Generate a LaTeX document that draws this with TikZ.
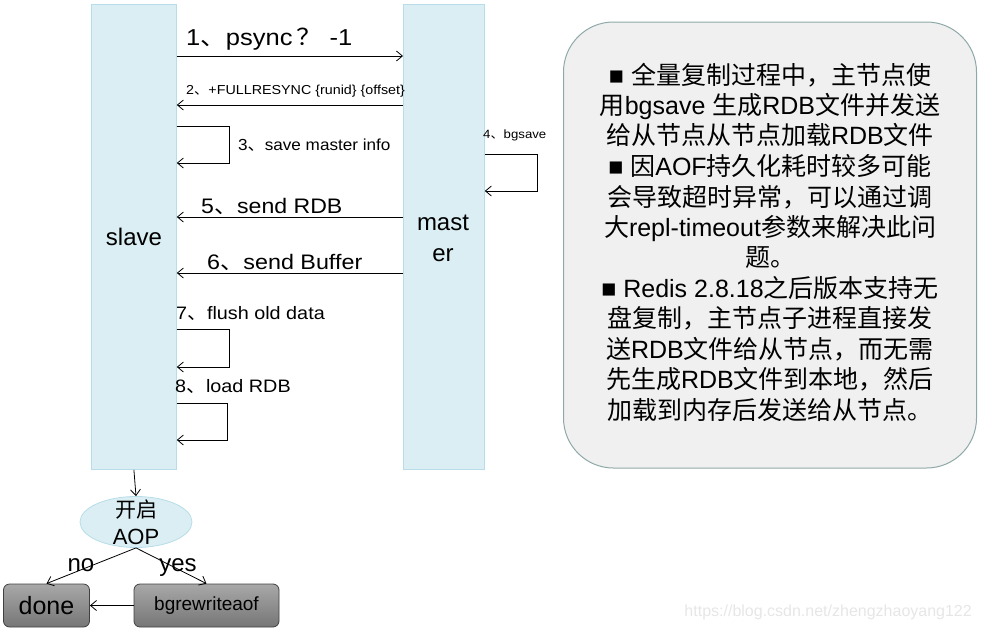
\documentclass[tikz,border=0pt]{standalone}
\usepackage{fontspec}
\setmainfont{Liberation Sans}
\newfontfamily\cjk{Noto Sans CJK SC}
\usetikzlibrary{arrows.meta,shapes.geometric}
\definecolor{life}{HTML}{DAEEF3}
\definecolor{lifeb}{HTML}{B7DDE8}
\definecolor{notef}{HTML}{F0F0F0}
\definecolor{noteb}{HTML}{8FA9A8}
\definecolor{gtop}{HTML}{A8A8A8}
\definecolor{gbot}{HTML}{767676}
\definecolor{gbord}{HTML}{404040}
\definecolor{wm}{HTML}{E6E6E6}
\newcommand\zh[1]{{\cjk #1}}
\newcommand\fsz[1]{\fontsize{#1}{#1}\selectfont}
\newcommand\wide[2]{\scalebox{#1}[1]{#2}}
\begin{document}
\begin{tikzpicture}[x=1pt,y=-1pt,
  arr/.style={-{Straight Barb[length=6pt,width=10pt]}, line width=0.8pt},
  lifeline/.style={draw=lifeb, fill=life, line width=0.8pt, inner sep=0pt, anchor=north west, minimum height=465pt},
  lbl/.style={anchor=base west, inner sep=0pt},
  graybox/.style={draw=gbord, top color=gtop, bottom color=gbot, rounded corners=6pt, line width=0.8pt, inner sep=0pt, minimum height=43pt},
  noteline/.style={anchor=base, inner sep=0pt, font=\fsz{25}}]
\useasboundingbox (0,0) rectangle (983,632);

% lifelines
\node[lifeline, minimum width=85pt] (slave) at (91,4) {};
\node[lifeline, minimum width=81pt] (master) at (403,4) {};
\node[font=\fsz{24}] (slavet) at (134,237) {slave};
\node[font=\fsz{24}, align=center, inner sep=0pt] (mastert) at (443,238) {mast\\[7pt]er};

% levels
\path (0,56) coordinate (h1) (0,105) coordinate (h2)
      (0,126) coordinate (h3a) (0,163) coordinate (h3b)
      (0,154) coordinate (h4a) (0,191) coordinate (h4b)
      (0,217) coordinate (h5) (0,273) coordinate (h6)
      (0,329) coordinate (h7a) (0,367) coordinate (h7b)
      (0,403) coordinate (h8a) (0,440) coordinate (h8b);

% messages
\draw[arr] (slave.east |- h1) -- (master.west |- h1);
\node[lbl, font=\fsz{23}] (l1) at (186,45) {\wide{1.11}{1\zh{、}psync\,\zh{？} -1}};
\draw[arr] (master.west |- h2) -- (slave.east |- h2);
\node[lbl, font=\fsz{13}] (l2) at (186,94) {\wide{1.1}{2\zh{、}+FULLRESYNC \{runid\} \{offset\}}};
\draw[arr] (slave.east |- h3a) -- ++(53,0) |- (slave.east |- h3b);
\node[lbl, font=\fsz{16}] (l3) at (238,150) {\wide{1.07}{3\zh{、}save master info}};
\draw[arr] (master.east |- h4a) -- ++(53,0) |- (master.east |- h4b);
\node[lbl, font=\fsz{12}] (l4) at (483,138) {\wide{1.1}{4\zh{、}bgsave}};
\draw[arr] (master.west |- h5) -- (slave.east |- h5);
\node[lbl, font=\fsz{21}] (l5) at (201,213) {\wide{1.1}{5\zh{、}send RDB}};
\draw[arr] (master.west |- h6) -- (slave.east |- h6);
\node[lbl, font=\fsz{21}] (l6) at (207,269) {\wide{1.11}{6\zh{、}send Buffer}};
\node[lbl, font=\fsz{18}] (l7) at (176,319) {\wide{1.1}{7\zh{、}flush old data}};
\draw[arr] (slave.east |- h7a) -- ++(53,0) |- (slave.east |- h7b);
\node[lbl, font=\fsz{18}] (l8) at (175,392) {\wide{1.1}{8\zh{、}load RDB}};
\draw[arr] (slave.east |- h8a) -- ++(51,0) |- (slave.east |- h8b);

% decision
\node[ellipse, draw=lifeb, fill=life, line width=0.8pt, minimum width=112pt, minimum height=51pt, inner sep=0pt] (aof) at (136,522) {};
\node[font=\fsz{21}, inner sep=0pt] (aoft1) at (136,510) {\zh{开启}};
\node[font=\fsz{22}, inner sep=0pt] (aoft2) at (136,537) {AOP};
\draw[arr] (slave.south) -- (aof.north);
\node[graybox, minimum width=86pt, font=\fsz{25}] (done) at (46.5,605.5) {done};
\node[graybox, minimum width=145pt, font=\fsz{19}] (bgr) at (206.5,605.5) {bgrewriteaof};
\draw[arr] (aof.south) -- (done.north);
\draw[arr] (aof.south) -- (bgr.north);
\node[font=\fsz{24}, inner sep=0pt, anchor=base] (no) at (81,571) {no};
\node[font=\fsz{24}, inner sep=0pt, anchor=base] (yes) at (178,571) {yes};
\draw[arr] (bgr.west) -- (done.east);

% note
\node[draw=noteb, fill=notef, line width=1pt, rounded corners=50pt, minimum width=413pt, minimum height=446pt] (note) at (770,245) {};
\node[noteline] (n1) at (770,84) {■ \zh{全量复制过程中，主节点使}};
\node[noteline] (n2) at (770,114) {\zh{用}bgsave \zh{生成}RDB\zh{文件并发送}};
\node[noteline] (n3) at (770,144.5) {\zh{给从节点从节点加载}RDB\zh{文件}};
\node[noteline] (n4) at (770,175.5) {■ \zh{因}AOF\zh{持久化耗时较多可能}};
\node[noteline] (n5) at (770,206) {\zh{会导致超时异常，可以通过调}};
\node[noteline] (n6) at (770,236) {\zh{大}repl-timeout\zh{参数来解决此问}};
\node[noteline] (n7) at (770,266.5) {\zh{题。}};
\node[noteline] (n8) at (770,297) {■ Redis 2.8.18\zh{之后版本支持无}};
\node[noteline] (n9) at (770,327.5) {\zh{盘复制，主节点子进程直接发}};
\node[noteline] (n10) at (770,358) {\zh{送}RDB\zh{文件给从节点，而无需}};
\node[noteline] (n11) at (770,388.5) {\zh{先生成}RDB\zh{文件到本地，然后}};
\node[noteline] (n12) at (770,419) {\zh{加载到内存后发送给从节点。}};

% watermark
\node[anchor=east, text=wm, font=\fsz{16}, inner sep=0pt] (wmk) at (972,612) {https://blog.csdn.net/zhengzhaoyang122};
\end{tikzpicture}
\end{document}
